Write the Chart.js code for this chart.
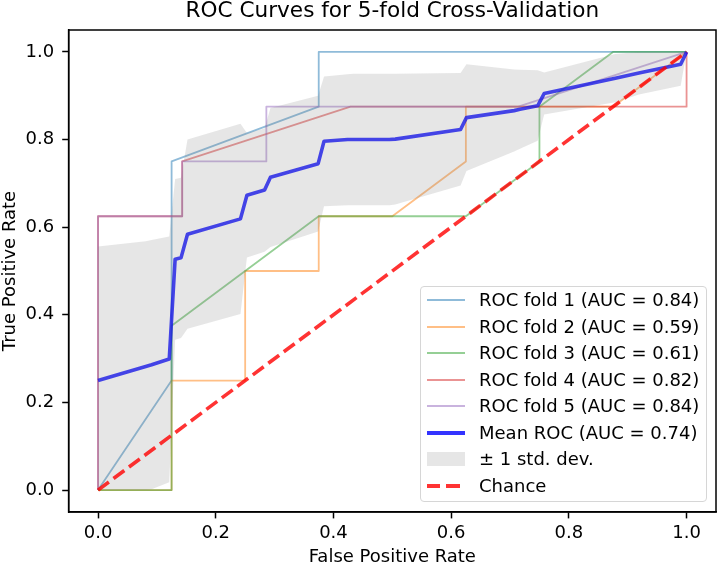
<!DOCTYPE html>
<html>
<head>
<meta charset="utf-8">
<title>ROC Curves for 5-fold Cross-Validation</title>
<script src="https://cdn.jsdelivr.net/npm/chart.js@4/dist/chart.umd.min.js"></script>
<style>
  body { margin: 0; background: #fff; }
  #wrap { position: relative; width: 720px; height: 567px; }
  #legend {
    position: absolute; left: 420px; top: 286px; width: 287px; height: 216px;
    box-sizing: border-box; border: 1px solid #d6d6d6; border-radius: 4px;
    background: rgba(255, 255, 255, 0.8);
    font-family: 'DejaVu Sans', sans-serif; font-size: 18px; color: #000;
  }
  .row { position: absolute; left: 0; right: 0; height: 26.5px; }
  .handle { position: absolute; left: 5.5px; width: 38px; top: 50%; }
  .text { position: absolute; left: 58px; top: 50%; transform: translateY(-50%); white-space: nowrap; line-height: 1; }
</style>
</head>
<body>
<div id="wrap">
  <canvas id="roc" width="720" height="567"></canvas>
  <div id="legend"></div>
</div>
<script>
// Tick labels
const xTicks = [0.0, 0.2, 0.4, 0.6, 0.8, 1.0];
const yTicks = [0.0, 0.2, 0.4, 0.6, 0.8, 1.0];

// Per-fold ROC curves (false positive rate / true positive rate)
const foldLabels = [
  'ROC fold 1 (AUC = 0.84)',
  'ROC fold 2 (AUC = 0.59)',
  'ROC fold 3 (AUC = 0.61)',
  'ROC fold 4 (AUC = 0.82)',
  'ROC fold 5 (AUC = 0.84)'
];
const fold1Fpr = [0, 0.125, 0.125, 0.375, 0.375, 1];
const fold1Tpr = [0, 0.25, 0.75, 0.875, 1, 1];
const fold2Fpr = [0, 0.125, 0.125, 0.25, 0.25, 0.375, 0.375, 0.5, 0.625, 0.625, 0.875, 1];
const fold2Tpr = [0, 0, 0.25, 0.25, 0.5, 0.5, 0.625, 0.625, 0.75, 0.875, 0.875, 1];
const fold3Fpr = [0, 0.125, 0.125, 0.375, 0.625, 0.75, 0.75, 0.875, 1];
const fold3Tpr = [0, 0, 0.375, 0.625, 0.625, 0.75, 0.875, 1, 1];
const fold4Fpr = [0, 0, 0.143, 0.143, 0.429, 1, 1];
const fold4Tpr = [0, 0.625, 0.625, 0.75, 0.875, 0.875, 1];
const fold5Fpr = [0, 0, 0.143, 0.143, 0.286, 0.286, 0.714, 1];
const fold5Tpr = [0, 0.625, 0.625, 0.75, 0.75, 0.875, 0.875, 1];

// Mean ROC and the +/- 1 std. dev. band
const meanLabel = 'Mean ROC (AUC = 0.74)';
const bandLabel = '\u00b1 1 std. dev.';
const meanFpr = [0, 0.081, 0.091, 0.121, 0.131, 0.141, 0.152, 0.242, 0.253, 0.283, 0.293, 0.374, 0.384,
  0.424, 0.434, 0.495, 0.505, 0.616, 0.626, 0.707, 0.717, 0.747, 0.758, 0.869, 0.879, 0.919, 0.99, 1];
const meanTpr = [0.25, 0.282, 0.286, 0.299, 0.527, 0.530, 0.584, 0.619, 0.673, 0.685, 0.714, 0.745, 0.796,
  0.800, 0.800, 0.800, 0.801, 0.823, 0.850, 0.866, 0.869, 0.877, 0.905, 0.937, 0.940, 0.952, 0.972, 1];
const stdUpper = [0.556, 0.568, 0.571, 0.579, 0.710, 0.713, 0.800, 0.836, 0.815, 0.825, 0.872, 0.900, 0.944,
  0.949, 0.950, 0.950, 0.950, 0.952, 0.972, 0.960, 0.959, 0.958, 0.953, 0.992, 0.995, 1.0, 1.0, 1.0];
const stdLower = [0, 0, 0.002, 0.018, 0.343, 0.347, 0.368, 0.402, 0.531, 0.544, 0.555, 0.590, 0.648,
  0.650, 0.650, 0.650, 0.652, 0.695, 0.728, 0.773, 0.779, 0.797, 0.857, 0.883, 0.885, 0.903, 0.923, 1.0];

// Chance diagonal
const chanceLabel = 'Chance';
const chanceFpr = [0, 1];
const chanceTpr = [0, 1];

// Styles
const FONT = 'DejaVu Sans';
const foldColors = ['rgba(31,119,180,0.5)', 'rgba(255,127,14,0.5)', 'rgba(44,160,44,0.5)',
  'rgba(214,39,40,0.5)', 'rgba(148,103,189,0.5)'];
const meanColor = 'rgba(0,0,255,0.8)';
const bandColor = 'rgba(128,128,128,0.2)';
const chanceColor = 'rgba(255,0,0,0.8)';
const chanceDash = [13.5, 5.8];

function toPoints(xs, ys) {
  return xs.map((x, i) => ({ x: x, y: ys[i] }));
}

const foldFpr = [fold1Fpr, fold2Fpr, fold3Fpr, fold4Fpr, fold5Fpr];
const foldTpr = [fold1Tpr, fold2Tpr, fold3Tpr, fold4Tpr, fold5Tpr];

const lineBase = { pointRadius: 0, pointHoverRadius: 0, tension: 0, borderJoinStyle: 'round', fill: false };

const datasets = foldLabels.map((label, i) => Object.assign({}, lineBase, {
  label: label,
  data: toPoints(foldFpr[i], foldTpr[i]),
  borderColor: foldColors[i],
  borderWidth: 1.8,
  order: 7 - i
}));

datasets.push(Object.assign({}, lineBase, {
  label: meanLabel,
  data: toPoints(meanFpr, meanTpr),
  borderColor: meanColor,
  borderWidth: 3.6,
  order: 2
}));

// band: upper edge fills down to the lower edge (next dataset)
datasets.push(Object.assign({}, lineBase, {
  label: bandLabel,
  data: toPoints(meanFpr, stdUpper),
  borderColor: 'rgba(0,0,0,0)',
  borderWidth: 0,
  backgroundColor: bandColor,
  fill: '+1',
  order: 1
}));
datasets.push(Object.assign({}, lineBase, {
  label: 'band lower',
  data: toPoints(meanFpr, stdLower),
  borderColor: 'rgba(0,0,0,0)',
  borderWidth: 0,
  order: 1
}));

datasets.push(Object.assign({}, lineBase, {
  label: chanceLabel,
  data: toPoints(chanceFpr, chanceTpr),
  borderColor: chanceColor,
  borderWidth: 3.6,
  borderDash: chanceDash,
  order: 0
}));

// full box round the axes, like matplotlib spines
const frame = {
  id: 'frame',
  afterDatasetsDraw(chart) {
    const { ctx, chartArea: a } = chart;
    ctx.save();
    ctx.strokeStyle = '#000';
    ctx.lineWidth = 1.5;
    ctx.strokeRect(a.left, a.top, a.right - a.left, a.bottom - a.top);
    ctx.restore();
  }
};

function axis(min, max, tickValues, title, fit) {
  return {
    type: 'linear',
    min: min,
    max: max,
    afterBuildTicks: s => { s.ticks = tickValues.map(v => ({ value: v })); },
    afterFit: fit,
    ticks: {
      callback: v => Number(v).toFixed(1),
      font: { family: FONT, size: 18 },
      color: '#000',
      autoSkip: false,
      maxRotation: 0
    },
    grid: { drawOnChartArea: false, drawTicks: true, tickLength: 6.4, tickWidth: 1.5, tickColor: '#000' },
    border: { display: true, color: '#000', width: 1.5 },
    title: {
      display: true,
      text: title,
      color: '#000',
      font: { family: FONT, size: 18, lineHeight: 1.1 },
      padding: 0
    }
  };
}

const xScale = axis(-0.05, 1.05, xTicks, 'False Positive Rate', s => { s.height = 55; });
xScale.ticks.padding = 4;
const yScale = axis(-0.05, 1.05, yTicks, 'True Positive Rate', s => { s.width = 68.6; });
yScale.ticks.padding = 8;

Chart.defaults.font.family = FONT;

const chart = new Chart(document.getElementById('roc'), {
  type: 'line',
  data: { datasets: datasets },
  options: {
    responsive: false,
    animation: false,
    layout: { padding: { left: 0, right: 4, top: 0, bottom: 0 } },
    scales: { x: xScale, y: yScale },
    plugins: {
      legend: { display: false },
      tooltip: { enabled: false },
      title: {
        display: true,
        text: 'ROC Curves for 5-fold Cross-Validation',
        color: '#000',
        fullSize: false,
        font: { family: FONT, size: 21.6, weight: 'normal', lineHeight: 1.1 },
        padding: { top: 0, bottom: 6.24 }
      }
    }
  },
  plugins: [frame]
});

// Legend (HTML, inside the axes at lower right)
const legendEl = document.getElementById('legend');
const legendItems = [];
foldLabels.forEach((label, i) => legendItems.push({ label: label, kind: 'line', color: foldColors[i], width: 1.8 }));
legendItems.push({ label: meanLabel, kind: 'line', color: meanColor, width: 3.6 });
legendItems.push({ label: bandLabel, kind: 'patch', color: bandColor });
legendItems.push({ label: chanceLabel, kind: 'dash', color: chanceColor, width: 3.6 });

legendItems.forEach((item, i) => {
  const row = document.createElement('div');
  row.className = 'row';
  row.style.top = (i * 26.5) + 'px';
  const handle = document.createElement('div');
  handle.className = 'handle';
  if (item.kind === 'patch') {
    handle.style.height = '14px';
    handle.style.marginTop = '-7px';
    handle.style.background = item.color;
  } else if (item.kind === 'dash') {
    handle.style.height = item.width + 'px';
    handle.style.marginTop = (-item.width / 2) + 'px';
    handle.style.background = 'repeating-linear-gradient(to right, ' + item.color + ' 0 13.5px, transparent 13.5px 19.3px)';
  } else {
    handle.style.height = item.width + 'px';
    handle.style.marginTop = (-item.width / 2) + 'px';
    handle.style.background = item.color;
  }
  const text = document.createElement('div');
  text.className = 'text';
  text.textContent = item.label;
  row.appendChild(handle);
  row.appendChild(text);
  legendEl.appendChild(row);
});
</script>
</body>
</html>
